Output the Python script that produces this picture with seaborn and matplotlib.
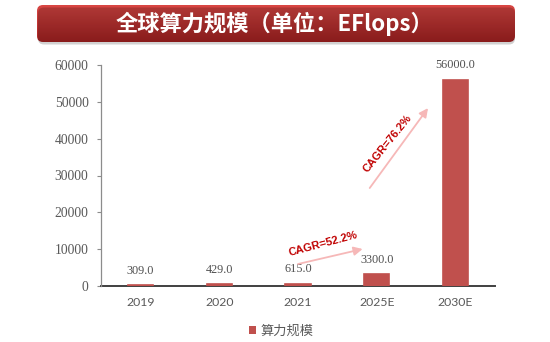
import numpy as np
import pandas as pd
import matplotlib
matplotlib.use("Agg")
import matplotlib.pyplot as plt
from matplotlib.patches import FancyBboxPatch, Patch
import seaborn as sns

# ---- data ----
years = ["2019", "2020", "2021", "2025E", "2030E"]
values = [309.0, 429.0, 615.0, 3300.0, 56000.0]
value_labels = ["309.0", "429.0", "615.0", "3300.0", "56000.0"]
yticks = [0, 10000, 20000, 30000, 40000, 50000, 60000]
series_name = "算力规模"
title = "全球算力规模（单位：EFlops）"
cagr_labels = ["CAGR=52.2%", "CAGR=76.2%"]

sns.set_theme(style="white")
plt.rcParams["font.family"] = ["Noto Sans CJK SC", "DejaVu Sans"]

W, H = 550, 342
fig = plt.figure(figsize=(W / 100, H / 100), dpi=100)
fig.patch.set_facecolor("white")

# ---- banner ----
axb = fig.add_axes([0, 0, 1, 1])
axb.set_xlim(0, W)
axb.set_ylim(H, 0)
axb.axis("off")
shadow = FancyBboxPatch((38, 7.5), 477, 37, boxstyle="round,pad=0,rounding_size=6",
                        facecolor="#000000", alpha=0.18, edgecolor="none")
axb.add_patch(shadow)
banner = FancyBboxPatch((37, 5), 478, 37, boxstyle="round,pad=0,rounding_size=6",
                        facecolor="none", edgecolor="none")
axb.add_patch(banner)
top_c = np.array([0xD9, 0x47, 0x44]) / 255
bot_c = np.array([0xA8, 0x22, 0x22]) / 255
t = np.linspace(0, 1, 64)[:, None]
grad = (top_c[None, None, :] * (1 - t[:, :, None]) + bot_c[None, None, :] * t[:, :, None])
grad = np.repeat(grad, 2, axis=1)
im = axb.imshow(grad, extent=(37, 515, 42, 5), aspect="auto", interpolation="bilinear")
im.set_clip_path(banner)
axb.text(274, 24, title, color="white", fontsize=16, fontweight="bold",
         ha="center", va="center", family=["Noto Sans CJK SC", "DejaVu Sans"])

# ---- main axes ----
ax = fig.add_axes([101 / W, 1 - 286 / H, 394 / W, 221 / H])
df = pd.DataFrame({"year": years, "value": values})
sns.barplot(data=df, x="year", y="value", color="#C0504D", saturation=1,
            width=0.32, ax=ax, edgecolor="#C0504D", linewidth=1.2, zorder=3)
ax.set_ylim(0, 60000)
ax.set_yticks(yticks)
ax.set_yticklabels([str(v) for v in yticks], family="Liberation Serif",
                   fontsize=9.8, color="#595959")
ax.set_xticks(range(len(years)))
ax.set_xticklabels(years, family="Lato", fontsize=8.8, color="#595959")
ax.set_xlabel("")
ax.set_ylabel("")
for s in ["top", "right"]:
    ax.spines[s].set_visible(False)
ax.spines["left"].set_color("#8C8C8C")
ax.spines["left"].set_linewidth(0.9)
ax.spines["bottom"].set_color("#404040")
ax.spines["bottom"].set_linewidth(1.4)
ax.spines["bottom"].set_zorder(2)
ax.tick_params(axis="y", which="major", direction="out", length=3, width=0.8,
               color="#8C8C8C", pad=6, left=True)
ax.tick_params(axis="x", length=0, pad=8)
ax.bar_label(ax.containers[0], labels=value_labels, padding=6,
             family="Liberation Serif", fontsize=8.8, color="#505050")

# ---- CAGR annotations ----
arrow_kw = dict(arrowstyle="-|>", color="#F6B8B8", lw=1.3, mutation_scale=13,
                shrinkA=0, shrinkB=0)
ax.annotate("", xy=(2.82, 10045), xytext=(2.0, 5970), arrowprops=arrow_kw)
ax.annotate("", xy=(3.65, 48300), xytext=(2.91, 26600), arrowprops=arrow_kw)
ax.text(2.32, 11500, cagr_labels[0], rotation=15, color="#C00000", fontsize=8,
        fontweight="bold", ha="center", va="center", rotation_mode="anchor",
        family="Liberation Sans")
ax.text(3.14, 38800, cagr_labels[1], rotation=51, color="#C00000", fontsize=8,
        fontweight="bold", ha="center", va="center", rotation_mode="anchor",
        family="Liberation Sans")

# ---- legend ----
handle = Patch(facecolor="#C0504D", edgecolor="none")
leg = fig.legend([handle], [series_name], loc="center", bbox_to_anchor=(281 / W, 1 - 331 / H),
                 frameon=False, handlelength=0.6, handleheight=0.6, handletextpad=0.3,
                 prop={"family": ["Noto Sans CJK SC"], "size": 9.5})
for txt in leg.get_texts():
    txt.set_color("#595959")

fig.savefig("out.png", dpi=100)
